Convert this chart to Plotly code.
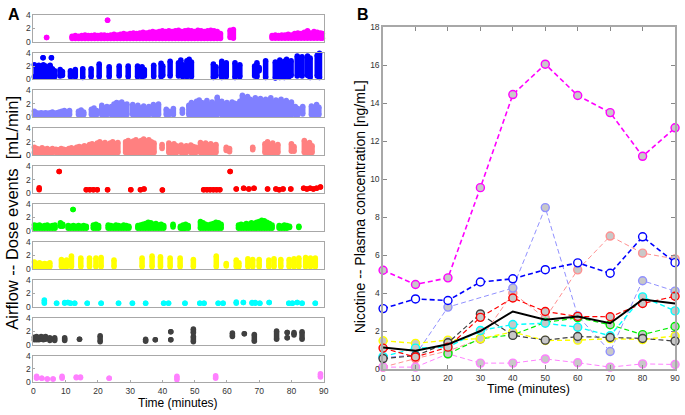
import plotly.graph_objects as go

# ---------------- Panel A data: dose-event clusters (time, low airflow, high airflow) ----------------
mag_t = [4.1, 23.0, 12, 13, 14, 15, 16, 17, 18, 19, 20, 21, 22, 23, 24, 25, 26, 27, 28, 29, 30, 31, 32, 33, 34, 35,
         36, 37, 38, 39, 40, 41, 42, 43, 44, 45, 46, 47, 48, 49, 50, 51, 52, 53, 54, 55, 56, 57, 58,
         61.0, 62.0, 74, 75, 76, 77, 78, 79, 80, 81, 82, 83, 84, 85, 86, 87, 88, 89, 89.6]
mag_lo = [0.6, 3.2] + [0.45] * 47 + [0.6, 0.5] + [0.5] * 17
mag_hi = [0.6, 3.2, 0.8, 0.9, 0.8, 0.9, 1.0, 0.9, 0.9, 1.0, 0.9, 1.0, 1.0, 0.9, 1.0, 1.1, 1.0, 1.1, 1.2, 1.1, 1.2,
          1.3, 1.2, 1.3, 1.4, 1.3, 1.4, 1.5, 1.4, 1.5, 1.6, 1.5, 1.6, 1.5, 1.6, 1.7, 1.5, 1.6, 1.7, 1.6, 1.5, 1.7,
          1.6, 1.5, 1.6, 1.7, 1.6, 1.5, 1.2, 1.7, 1.8,
          0.9, 1.0, 0.9, 1.0, 1.0, 1.1, 1.0, 1.2, 1.3, 1.2, 1.4, 1.6, 1.3, 1.5, 1.4, 1.3, 1.2]

blu_t = [0.3, 1.0, 1.7, 2.4, 3.1, 3.8, 4.5, 5.2, 5.9, 6.6, 3.0, 5.6, 8.3, 9.0, 11.5, 12.2, 13.0, 15.3, 17.9,
         20.4, 23.5, 26.6, 29.4, 32.3, 33.0, 33.7, 34.4, 37.3, 39.6, 40.1, 42.4, 45.0, 45.7, 46.3, 47.6, 48.3,
         49.0, 55.8, 56.6, 58.4, 59.1, 59.8, 62.5, 63.2, 64.0, 68.6, 69.3, 70.0, 72.0, 75.0, 75.7, 76.4, 77.1,
         77.8, 78.5, 79.2, 79.9, 81.8, 82.6, 83.3, 85.0, 85.8, 88.0, 88.7, 89.4]
blu_lo = [0.4] * 10 + [3.25, 3.25] + [0.5, 0.6, 0.4, 0.5, 0.4, 0.3, 0.4, 0.4, 0.4, 0.5, 0.4, 0.4, 0.6, 0.4, 0.5,
          0.4, 0.4, 0.6, 0.5, 0.5, 0.7, 0.4, 0.4, 0.6, 0.4, 0.3, 0.5, 0.3, 0.6, 0.4, 0.3, 0.6, 0.4, 0.5, 0.4, 1.3,
          0.3, 0.2, 0.5, 0.3, 0.6, 0.3, 0.5, 0.4, 0.6, 0.5, 0.7, 0.5, 0.6, 0.3, 0.5, 0.3]
blu_hi = [2.2, 1.9, 2.1, 1.8, 2.2, 2.0, 1.7, 2.1, 1.6, 1.3, 3.25, 3.25, 1.5, 1.2, 1.3, 1.0, 1.5, 1.6, 1.6, 2.3,
          1.9, 2.0, 2.0, 2.0, 1.6, 1.9, 1.5, 2.1, 2.4, 2.0, 2.7, 2.5, 2.9, 2.2, 2.8, 3.0, 2.6, 2.3, 1.9, 2.7, 2.2,
          2.5, 2.5, 1.8, 2.2, 2.0, 2.5, 1.8, 2.8, 2.6, 2.2, 2.9, 2.4, 2.7, 3.0, 2.5, 2.8, 3.5, 3.2, 3.4, 3.5, 3.2,
          3.6, 3.9, 3.3]

per_t = [0.3, 1.0, 1.7, 2.4, 3.1, 3.8, 4.5, 5.2, 5.9, 6.6, 7.3, 8.0, 8.8, 9.6, 10.4, 11.2, 14.0, 14.8, 15.6,
         18.0, 18.8, 19.6, 21.2, 22.0, 22.8, 24.2, 25.0, 25.8, 26.6, 27.4, 28.2, 29.0, 30.8, 31.6, 32.4, 33.2,
         34.2, 35.0, 35.8, 37.2, 38.0, 38.8, 41.2, 42.0, 43.4, 46.2, 48.2, 49.0, 49.8, 50.6, 51.4, 52.2, 53.0,
         53.8, 54.6, 55.4, 56.2, 57.0, 58.4, 59.2, 60.0, 60.8, 61.6, 62.4, 63.2, 64.0, 64.8, 65.6, 66.4, 67.2,
         68.0, 68.8, 69.6, 70.4, 71.2, 72.0, 72.8, 73.6, 74.4, 75.2, 76.0, 76.8, 77.6, 78.4, 79.2, 80.0, 81.2,
         82.0, 83.5, 86.2, 87.0, 87.8, 88.5]
per_lo = [0.4] * 45 + [0.6] + [0.4] * 40 + [0.4, 0.4, 0.5, 0.4, 0.4, 0.4, 0.4]
per_hi = [0.9, 0.7, 0.6, 0.7, 0.6, 0.7, 0.6, 0.7, 0.8, 0.6, 0.7, 0.8, 0.9, 1.0, 0.8, 1.0, 0.9, 1.1, 0.8, 1.2,
          1.4, 1.0, 1.8, 1.4, 1.6, 1.6, 2.0, 2.2, 2.1, 2.3, 1.9, 2.0, 1.9, 1.5, 1.8, 1.4, 1.7, 1.3, 1.6, 1.9, 1.6,
          2.0, 1.2, 0.9, 1.3, 1.2, 1.8, 2.2, 2.0, 2.4, 2.6, 2.2, 2.1, 2.5, 1.9, 2.3, 2.0, 3.0, 2.4, 2.0, 2.2, 1.8,
          2.3, 2.1, 2.0, 2.4, 3.3, 2.8, 3.1, 2.7, 2.5, 2.9, 2.6, 2.8, 2.4, 2.7, 2.5, 2.9, 2.3, 2.6, 2.4, 2.7, 2.2,
          2.5, 2.0, 2.3, 1.6, 1.3, 1.6, 1.7, 1.4, 1.9, 1.5]

sal_t = [0.3, 1.1, 1.9, 2.7, 3.5, 4.3, 5.1, 5.9, 7.0, 7.8, 8.6, 9.4, 10.2, 11.0, 11.8, 12.6, 13.4, 14.2, 15.0,
         15.8, 16.6, 17.4, 18.2, 19.0, 19.8, 20.6, 21.4, 22.2, 23.0, 23.8, 24.6, 25.4, 26.2, 28.6, 29.4, 30.2,
         31.0, 31.8, 32.6, 33.4, 34.2, 35.0, 35.8, 36.6, 37.4, 39.9, 42.0, 42.8, 43.6, 44.4, 45.8, 46.6, 47.4,
         48.8, 49.6, 50.4, 51.8, 52.6, 53.4, 54.2, 55.0, 55.8, 56.6, 59.8, 60.8, 68.0, 71.8, 72.6, 73.4, 74.2,
         75.0, 75.8, 80.0, 80.8, 84.0, 84.8, 85.6, 86.4]
sal_lo = [0.4] * 45 + [1.0] + [0.4] * 17 + [0.7, 0.5, 0.8] + [0.4] * 6 + [0.6, 0.6, 0.4, 0.4, 0.4, 0.4]
sal_hi = [1.2, 1.0, 0.9, 1.1, 0.9, 1.0, 0.8, 1.0, 0.9, 0.8, 1.0, 0.9, 0.8, 1.0, 1.1, 0.9, 1.2, 1.3, 1.2, 1.4,
          1.3, 1.6, 1.7, 1.5, 1.8, 2.0, 1.7, 1.9, 1.6, 1.8, 2.0, 1.7, 1.9, 2.0, 2.2, 1.9, 2.1, 2.3, 2.0, 2.2, 2.4,
          2.1, 2.3, 2.0, 1.8, 1.6, 1.8, 1.5, 1.7, 1.4, 1.5, 1.2, 1.4, 1.5, 1.3, 1.2, 1.9, 1.6, 1.8, 1.5, 1.7, 1.4,
          1.6, 1.2, 1.0, 1.2, 1.7, 2.0, 1.6, 1.8, 1.3, 1.6, 1.7, 1.3, 2.2, 1.6, 1.9, 1.4]

red_t = [1.8, 8.0, 16.4, 17.5, 18.6, 19.8, 23.0, 30.2, 33.2, 34.3, 40.0, 52.8, 53.8, 54.8, 55.8, 56.8, 57.8, 61.0,
         62.9, 65.2, 66.8, 68.4, 72.6, 75.2, 76.2, 77.4, 79.8, 83.8, 84.8, 85.8, 86.8, 87.8, 89.0]
red_lo = [0.5, 3.2, 0.5, 0.5, 0.5, 0.5, 0.5, 0.5, 0.5, 0.6, 0.45, 0.5, 0.5, 0.5, 0.5, 0.5, 0.5, 3.2,
          0.6, 0.7, 0.6, 0.7, 0.6, 0.6, 0.5, 0.6, 0.6, 0.7, 0.6, 0.7, 0.6, 0.7, 0.9]
red_hi = [0.8, 3.2, 0.5, 0.5, 0.5, 0.5, 0.5, 0.5, 0.5, 0.6, 0.45, 0.5, 0.5, 0.5, 0.5, 0.5, 0.5, 3.2,
          0.6, 0.7, 0.6, 0.7, 0.6, 0.6, 0.5, 0.6, 0.6, 0.7, 0.6, 0.7, 0.6, 0.7, 0.9]

grn_t = [0.3, 1.1, 1.9, 2.7, 3.5, 4.3, 5.1, 5.9, 6.7, 8.4, 9.1, 10.8, 11.6, 12.4, 13.2, 14.0, 14.8, 15.6, 16.4,
         12.3, 18.6, 19.4, 20.2, 23.2, 24.0, 24.8, 25.6, 26.4, 27.2, 28.0, 28.8, 29.6, 32.4, 33.2, 34.0, 34.8,
         35.6, 36.4, 37.2, 38.0, 38.8, 39.6, 40.4, 43.3, 45.6, 46.4, 47.2, 48.0, 51.8, 52.6, 53.4, 54.2, 55.0,
         55.8, 56.6, 57.4, 58.2, 63.6, 64.4, 65.2, 66.0, 66.8, 67.6, 68.4, 69.2, 70.0, 70.8, 71.6, 72.4, 73.2,
         74.0, 76.2, 77.0, 77.8, 78.6, 79.4, 82.3, 89.6]
grn_lo = [0.4] * 9 + [0.7, 0.7] + [0.4] * 8 + [3.2] + [0.4] * 23 + [0.6, 0.4, 0.3, 0.4, 0.4] + [0.4] * 27 + [0.5, 0.5]
grn_hi = [0.9, 0.8, 0.9, 0.7, 0.8, 0.9, 0.7, 0.8, 0.9, 1.2, 1.0, 0.8, 0.7, 0.8, 0.7, 0.8, 0.7, 0.8, 0.7, 3.2,
          0.9, 1.0, 0.8, 0.9, 0.8, 0.7, 0.9, 0.8, 0.7, 0.9, 0.8, 0.7, 0.8, 0.9, 1.0, 1.1, 1.3, 1.2, 1.0, 1.1,
          0.9, 1.0, 0.8, 1.0, 0.7, 0.9, 1.0, 0.8, 1.4, 1.2, 1.0, 0.9, 1.0, 1.1, 1.3, 1.2, 1.0, 0.9, 1.0, 0.9,
          1.1, 1.0, 1.2, 1.1, 1.3, 1.4, 1.6, 1.5, 1.3, 1.1, 0.9, 0.8, 0.7, 0.9, 0.8, 0.7, 0.7, 1.2]

yel_t = [0.3, 1.1, 1.9, 2.7, 3.5, 4.3, 5.1, 8.7, 9.5, 10.3, 11.8, 14.7, 17.4, 19.4, 21.0, 25.0, 33.7, 36.8,
         39.4, 42.4, 45.5, 49.6, 56.7, 59.8, 62.9, 63.7, 66.5, 68.0, 70.0, 73.0, 74.6, 76.7, 79.3, 80.8, 82.3,
         84.4, 85.9, 87.4]
yel_lo = [0.3] * 23 + [0.4] + [0.3] * 14
yel_hi = [1.0, 0.8, 0.9, 0.7, 0.8, 0.7, 0.9, 1.4, 1.1, 1.3, 1.9, 1.6, 1.6, 1.6, 1.7, 1.3, 1.6, 1.9, 1.8, 1.6,
          1.6, 1.4, 1.9, 0.8, 1.3, 0.9, 1.5, 1.4, 1.4, 1.3, 1.5, 1.4, 1.4, 1.5, 1.6, 1.7, 1.6, 1.6]

cya_t = [3.4, 7.2, 9.7, 10.7, 11.5, 12.8, 16.7, 21.0, 26.4, 30.7, 34.8, 40.4, 41.9, 47.0, 51.6, 52.9, 57.3, 58.8,
         62.9, 65.1, 67.8, 68.8, 70.2, 73.1, 79.2, 80.3, 81.8, 83.3, 87.4]
cya_lo = [0.5, 0.5, 0.5, 0.6, 0.5, 0.5, 0.5, 0.5, 0.5, 0.5, 0.5, 0.5, 0.5, 0.5, 0.5, 0.5, 0.5, 0.5,
          0.5, 0.6, 0.5, 0.5, 0.5, 0.6, 0.5, 0.5, 0.6, 0.5, 0.5]
cya_hi = [1.0, 0.5, 0.6, 0.6, 0.5, 0.5, 0.5, 0.5, 0.5, 0.5, 0.5, 0.5, 0.5, 0.5, 0.5, 0.5, 0.5, 0.5,
          0.7, 0.6, 0.6, 0.6, 0.5, 0.6, 0.5, 0.5, 0.6, 0.5, 0.5]

gry_t = [0.3, 1.0, 1.7, 2.4, 3.1, 3.8, 5.1, 6.6, 9.7, 14.3, 20.7, 34.8, 37.8, 42.6, 42.6, 49.6, 49.6, 61.7,
         65.4, 68.5, 75.4, 78.7, 78.7, 80.8, 83.3]
gry_lo = [0.7, 0.7, 0.7, 0.8, 0.7, 0.8, 0.6, 0.6, 0.6, 0.8, 0.4, 0.5, 0.7, 0.7, 1.9, 0.4, 1.7, 1.2,
          1.6, 0.5, 0.8, 1.0, 1.8, 1.4, 0.8]
gry_hi = [1.1, 1.2, 1.0, 1.2, 1.1, 1.2, 1.0, 1.0, 1.0, 0.8, 1.3, 0.8, 0.7, 0.7, 1.9, 1.2, 2.3, 1.7,
          1.6, 1.5, 2.0, 1.0, 1.8, 1.8, 1.9]

vio_t = [1.0, 2.6, 4.3, 6.1, 8.9, 13.3, 14.6, 23.5, 44.5, 56.5, 89.0]
vio_lo = [0.6, 0.6, 0.5, 0.5, 0.6, 0.7, 0.7, 0.6, 0.4, 0.6, 0.8]
vio_hi = [0.9, 0.6, 0.5, 0.5, 0.9, 0.8, 0.8, 0.6, 0.9, 1.0, 1.3]

# ---------------- Panel B data: plasma nicotine (ng/mL) ----------------
times_b = [0, 10, 20, 30, 40, 50, 60, 70, 80, 90]
nic_magenta = [5.2, 4.45, 4.8, 9.55, 14.45, 16.05, 14.4, 13.5, 11.2, 12.7]
nic_blue = [3.18, 3.69, 3.61, 4.58, 4.75, 5.23, 5.59, 5.04, 6.96, 5.6]
nic_periwinkle = [0.6, 0.74, 3.26, None, 4.26, 8.5, 2.8, 0.92, 4.65, 4.1]
nic_salmon = [0.1, 0.55, 0.95, 1.57, 4.0, 2.68, 5.22, 7.0, 6.1, 5.8]
nic_red = [1.1, 0.63, 1.15, 2.72, 3.74, 3.03, 2.77, 2.75, 3.45, 3.83]
nic_green = [None, None, 0.8, 1.6, 1.8, 2.45, 2.7, 2.33, 1.81, 2.24]
nic_yellow = [1.49, 1.35, 1.52, 1.6, 1.95, 1.5, 1.52, 1.6, 1.55, 1.74]
nic_cyan = [0.65, 1.1, 1.15, 2.03, 2.34, 2.41, 2.2, 1.75, 3.8, 3.06]
nic_gray = [0.55, 0.7, 1.38, 2.9, 1.77, 1.52, 1.71, 1.66, 1.61, 1.47]
nic_violet = [0.1, 0.1, 0.8, 0.31, 0.31, 0.53, 0.33, 0.1, 0.27, 0.24]
nic_mean = [1.13, 0.96, 1.3, 2.0, 3.03, 2.6, 2.77, 2.41, 3.66, 3.45]

x_ticks = [0, 10, 20, 30, 40, 50, 60, 70, 80, 90]
a_yticks = [0, 2, 4]
b_yticks = [0, 2, 4, 6, 8, 10, 12, 14, 16, 18]

# ---------------- figure ----------------
W, H = 685, 415
FONT = "Liberation Sans, Arial, sans-serif"
FRAME = "#a8a8a8"
TICKC = "#333333"

panels_a = [
    (mag_t, mag_lo, mag_hi, "#ff00ff"),
    (blu_t, blu_lo, blu_hi, "#0000ff"),
    (per_t, per_lo, per_hi, "#8080ff"),
    (sal_t, sal_lo, sal_hi, "#ff8080"),
    (red_t, red_lo, red_hi, "#ff0000"),
    (grn_t, grn_lo, grn_hi, "#00ff00"),
    (yel_t, yel_lo, yel_hi, "#ffff00"),
    (cya_t, cya_lo, cya_hi, "#00ffff"),
    (gry_t, gry_lo, gry_hi, "#404040"),
    (vio_t, vio_lo, vio_hi, "#ff80ff"),
]

fig = go.Figure()
layout = dict(width=W, height=H, margin=dict(l=0, r=0, t=0, b=0), plot_bgcolor="white",
              paper_bgcolor="white", showlegend=False, hovermode=False,
              font=dict(family=FONT, size=8, color=TICKC))

ax_left, ax_right = 31.7, 325.0
top0, step, hgt = 10.0, 38.8, 27.5
MS = 5.5
for i, (t, lo, hi, col) in enumerate(panels_a):
    n = i + 1
    xs, ys = [], []
    for tt, l, h in zip(t, lo, hi):
        xs += [tt, tt, None]
        ys += [l, h, None]
    xref = "x" if n == 1 else f"x{n}"
    yref = "y" if n == 1 else f"y{n}"
    fig.add_trace(go.Scatter(x=xs, y=ys, mode="lines+markers", xaxis=xref, yaxis=yref,
                             line=dict(color=col, width=MS), marker=dict(color=col, size=MS),
                             cliponaxis=False, hoverinfo="skip"))
    top = top0 + step * i
    bot = top + hgt
    last = (i == 9)
    layout[f"xaxis{'' if n == 1 else n}"] = dict(
        domain=[ax_left / W, ax_right / W], range=[0, 90], anchor=yref,
        showline=True, linecolor=FRAME, linewidth=1, mirror=True, showgrid=False, zeroline=False,
        tickvals=x_ticks, showticklabels=last, ticks="inside" if last else "", ticklen=2,
        tickcolor=FRAME, tickfont=dict(size=8.5, color=TICKC, family=FONT))
    layout[f"yaxis{'' if n == 1 else n}"] = dict(
        domain=[1 - bot / H, 1 - top / H], range=[0, 4], anchor=xref,
        showline=True, linecolor=FRAME, linewidth=1, mirror=True, showgrid=False, zeroline=False,
        tickvals=a_yticks, ticks="inside", ticklen=2, tickcolor=FRAME,
        tickfont=dict(size=8.5, color=TICKC, family=FONT))

# Panel B
bx0, bx1, by0, by1 = 385.0, 680.0, 22.7, 373.0
series_b = [
    (nic_salmon, "#ff9090", 1.0, "#c8c8c8"),
    (nic_periwinkle, "#9090ff", 1.0, "#c8c8c8"),
    (nic_violet, "#ff80ff", 1.0, "#c8c8c8"),
    (nic_green, "#00ee00", 1.2, "#c8c8c8"),
    (nic_yellow, "#ffff00", 1.4, "#c8c8c8"),
    (nic_cyan, "#00ffff", 1.4, "#c8c8c8"),
    (nic_gray, "#404040", 1.2, "#c8c8c8"),
    (nic_red, "#ff0000", 1.2, "#c8c8c8"),
    (nic_blue, "#0000ff", 1.6, "#ffffff"),
    (nic_magenta, "#ff00ff", 1.6, "#c8c8c8"),
]
for vals, col, lw, fill in series_b:
    fig.add_trace(go.Scatter(x=times_b, y=vals, mode="lines+markers", xaxis="x11", yaxis="y11",
                             connectgaps=True, cliponaxis=False, hoverinfo="skip",
                             line=dict(color=col, width=lw, dash="5px,3px"),
                             marker=dict(symbol="circle", size=8, color=fill,
                                         line=dict(color=col, width=1.4))))
fig.add_trace(go.Scatter(x=times_b, y=nic_mean, mode="lines", xaxis="x11", yaxis="y11",
                         line=dict(color="black", width=2), cliponaxis=False, hoverinfo="skip"))

layout["xaxis11"] = dict(domain=[bx0 / W, bx1 / W], range=[0, 90], anchor="y11",
                         showline=True, linecolor=FRAME, linewidth=1.5, mirror="ticks", showgrid=False,
                         zeroline=False, tickvals=x_ticks, ticks="inside", ticklen=4, tickcolor="#888888",
                         tickfont=dict(size=8.5, color=TICKC, family=FONT))
layout["yaxis11"] = dict(domain=[1 - by1 / H, 1 - by0 / H], range=[0, 18], anchor="x11",
                         showline=True, linecolor=FRAME, linewidth=1.5, mirror="ticks", showgrid=False,
                         zeroline=False, tickvals=b_yticks, ticks="inside", ticklen=4, tickcolor="#888888",
                         tickfont=dict(size=8.5, color=TICKC, family=FONT))

ann = [
    dict(text="<b>A</b>", x=4 / W, y=1 - 10 / H, font=dict(size=16, color="black")),
    dict(text="<b>B</b>", x=357 / W, y=1 - 10 / H, font=dict(size=16, color="black")),
    dict(text="Airflow -- Dose events  [mL/min]", x=10 / W, y=1 - 213 / H, textangle=-90,
         font=dict(size=16.5, color="black")),
    dict(text="Time (minutes)", x=178 / W, y=1 - 407.5 / H, font=dict(size=12, color="black")),
    dict(text="Nicotine -- Plasma concentration [ng/mL]", x=362 / W, y=1 - 207 / H, textangle=-90,
         font=dict(size=14, color="black")),
    dict(text="Time (minutes)", x=532 / W, y=1 - 393 / H, font=dict(size=12.5, color="black")),
]
layout["annotations"] = [dict(a, xref="paper", yref="paper", showarrow=False,
                              xanchor="left" if a["text"].startswith("<b>") else "center",
                              yanchor="middle", font=dict(family=FONT, **a["font"])) for a in ann]
fig.update_layout(**layout)
fig.write_html("out.html", config={"displayModeBar": False},
               post_script="document.body.style.margin='0';document.body.style.overflow='hidden';")
